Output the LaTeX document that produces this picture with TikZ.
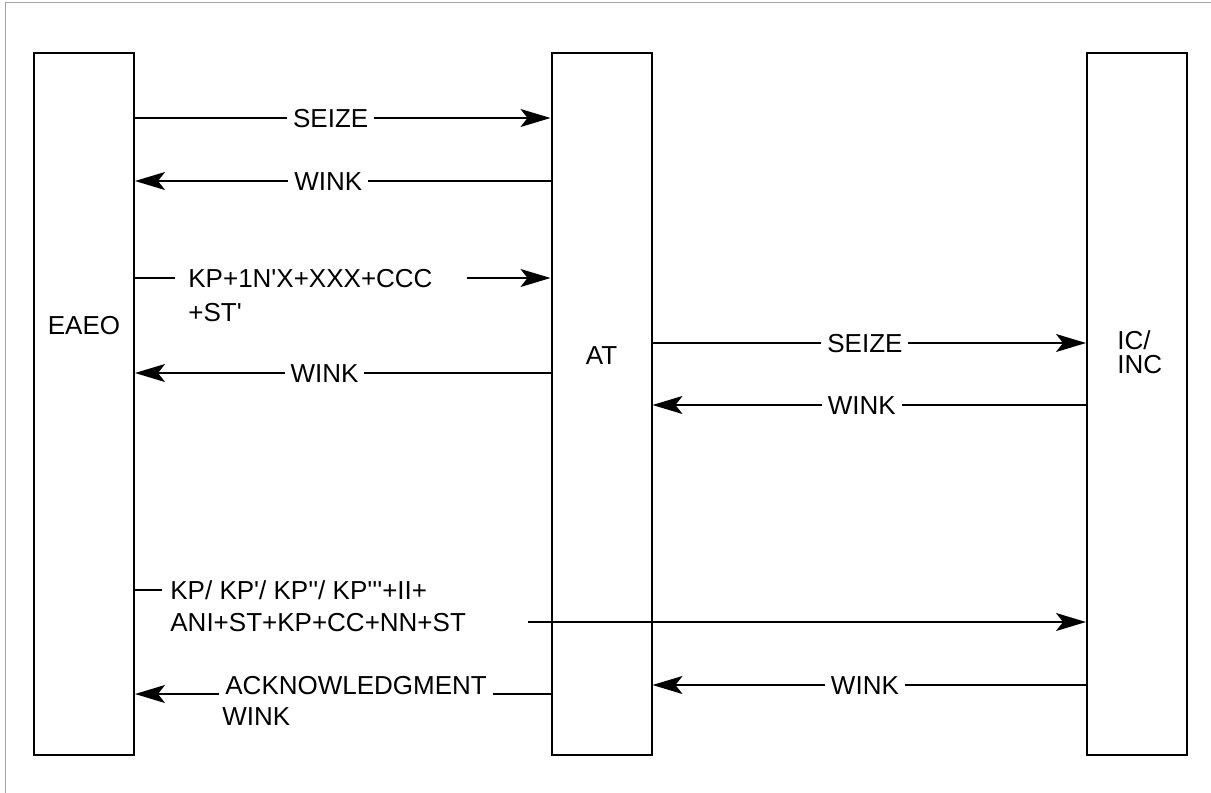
\documentclass[tikz,border=0pt]{standalone}
\usepackage{fontspec}
\newfontfamily\diagfont{Liberation Sans}
\usetikzlibrary{arrows.meta,positioning}

\tikzset{
  party/.style={draw, line width=1pt, minimum width=50pt, minimum height=351pt, inner sep=0pt},
  msg/.style={line width=0.75pt, -{Stealth[length=15pt,width=9pt,inset=3.5pt]}},
  seg/.style={line width=0.75pt},
  lbl/.style={fill=white, inner xsep=3pt, inner ysep=1pt, text height=9.3pt, text depth=0pt},
  txt/.style={inner xsep=0pt, inner ysep=0pt, text height=9.3pt, text depth=0pt}
}

\begin{document}
\begin{tikzpicture}[x=0.5pt, y=-0.5pt, every node/.style={font=\diagfont\fontsize{13pt}{15.5pt}\selectfont}]
  \useasboundingbox (0,0) rectangle (1211,793);
  \draw[gray!70, line width=0.75pt] (5.5,793) -- (5.5,2.5) -- (1211,2.5);

  \node[party] (eaeo) at (84,404) {};
  \node[party] (at) at (601.5,404) {};
  \node[party] (ic) at (1137,404) {};
  \node[txt] at (eaeo.center |- 0,325) {EAEO};
  \node[txt] at (at.center |- 0,355) {AT};
  \node[txt, anchor=west] (icl) at (1117,340) {IC/};
  \node[txt, anchor=west] at (1117,364) {INC};

  \draw[msg] (eaeo.east |- 0,118) -- node[lbl, pos=0.471] {SEIZE} (at.west |- 0,118);
  \draw[msg] (at.west |- 0,181) -- node[lbl, pos=0.535] {WINK} (eaeo.east |- 0,181);

  % digits towards the tandem
  \node[txt, anchor=west, inner xsep=6.5pt] (kpa) at (175,278) {KP+1N'X+XXX+CCC};
  \node[txt, anchor=west] at (188,312) {+ST'};
  \coordinate (kpago) at (467,278);
  \draw[seg] (eaeo.east |- kpa) -- (kpa.west);
  \draw[msg] (kpago) -- (at.west |- kpago);

  \draw[msg] (at.west |- 0,373) -- node[lbl, pos=0.544] {WINK} (eaeo.east |- 0,373);
  \draw[msg] (at.east |- 0,343) -- node[lbl, pos=0.49] {SEIZE} (ic.west |- 0,343);
  \draw[msg] (ic.west |- 0,405) -- node[lbl, pos=0.517] {WINK} (at.east |- 0,405);

  % digits towards the IC/INC
  \node[txt, anchor=west, inner xsep=4pt] (kpb) at (162,590) {KP/ KP'/ KP''/ KP'''+II+};
  \node[txt, anchor=west] (ani) at (170,622) {ANI+ST+KP+CC+NN+ST};
  \coordinate (kpbgo) at (528,622);
  \draw[seg] (eaeo.east |- kpb) -- (kpb.west);
  \draw[msg] (kpbgo) -- (ic.west |- kpbgo);

  \draw[msg] (ic.west |- 0,685) -- node[lbl, pos=0.51] {WINK} (at.east |- 0,685);

  % acknowledgment
  \node[txt, anchor=base west, inner xsep=3pt] (ack) at (219,694) {ACKNOWLEDGMENT};
  \node[txt, anchor=base west] at (222,725) {WINK};
  \draw[seg] (at.west |- ack.base) -- (ack.base east);
  \draw[msg] (ack.base west) -- (eaeo.east |- ack.base);
\end{tikzpicture}
\end{document}
